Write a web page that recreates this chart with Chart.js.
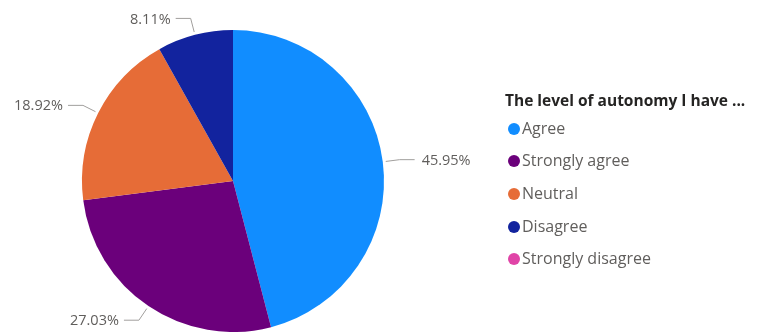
<!DOCTYPE html>
<html>
<head>
<meta charset="utf-8">
<script src="https://cdn.jsdelivr.net/npm/chart.js@4/dist/chart.umd.min.js"></script>
<style>
  html, body { margin: 0; padding: 0; background: #fff; }
  #wrap { position: relative; width: 759px; height: 332px; }
</style>
</head>
<body>
<div id="wrap"><canvas id="pie" width="759" height="332"></canvas></div>
<script>
const legendTitle = 'The level of autonomy I have ...';
const categories = ['Agree', 'Strongly agree', 'Neutral', 'Disagree', 'Strongly disagree'];
const counts = [17, 10, 7, 3, 0];
const sliceColors = ['#118DFF', '#6B007B', '#E66C37', '#12239E', '#E044A7'];

const FONT = '"Open Sans", "Noto Sans", sans-serif';
const total = counts.reduce((a, b) => a + b, 0);

// data labels with a short radial leader and a horizontal tail
const leaderLabels = {
  id: 'leaderLabels',
  afterDatasetsDraw(chart) {
    const ctx = chart.ctx;
    const meta = chart.getDatasetMeta(0);
    ctx.save();
    ctx.font = '14.5px ' + FONT;
    ctx.textBaseline = 'middle';
    meta.data.forEach((arc, i) => {
      const v = counts[i];
      if (!v) return;
      const { x, y, startAngle, endAngle, outerRadius } = arc.getProps(['x', 'y', 'startAngle', 'endAngle', 'outerRadius'], true);
      const mid = (startAngle + endAngle) / 2;
      const cos = Math.cos(mid), sin = Math.sin(mid);
      const x0 = x + cos * (outerRadius + 3), y0 = y + sin * (outerRadius + 3);
      const x1 = x + cos * (outerRadius + 17), y1 = y + sin * (outerRadius + 17);
      const right = cos >= 0;
      const x2 = x1 + (right ? 15 : -15);
      ctx.strokeStyle = '#A19F9D';
      ctx.lineWidth = 1;
      ctx.beginPath();
      ctx.moveTo(x0, y0);
      ctx.lineTo(x1, y1);
      ctx.lineTo(x2, y1);
      ctx.stroke();
      ctx.fillStyle = '#605E5C';
      ctx.textAlign = right ? 'left' : 'right';
      const pct = (v / total * 100).toFixed(2) + '%';
      ctx.fillText(pct, x2 + (right ? 7 : -5), y1 + 1);
    });
    ctx.restore();
  }
};

// legend on the right: bold title, then a dot and a name per category
const sideLegend = {
  id: 'sideLegend',
  afterDraw(chart) {
    const ctx = chart.ctx;
    ctx.save();
    ctx.textBaseline = 'middle';
    ctx.textAlign = 'left';
    ctx.fillStyle = '#252423';
    ctx.font = 'bold 15.5px ' + FONT;
    ctx.fillText(legendTitle, 505, 102);
    const rows = [129, 161, 194, 227, 259];
    ctx.font = '16px ' + FONT;
    categories.forEach((name, i) => {
      ctx.fillStyle = sliceColors[i];
      ctx.beginPath();
      ctx.arc(514, rows[i], 6, 0, Math.PI * 2);
      ctx.fill();
      ctx.fillStyle = '#605E5C';
      ctx.fillText(name, 522, rows[i]);
    });
    ctx.restore();
  }
};

new Chart(document.getElementById('pie'), {
  type: 'pie',
  data: {
    labels: categories,
    datasets: [{
      data: counts,
      backgroundColor: sliceColors,
      borderWidth: 0
    }]
  },
  options: {
    responsive: false,
    animation: false,
    layout: { padding: { left: 82, right: 375, top: 30, bottom: 0 } },
    plugins: {
      legend: { display: false },
      tooltip: { enabled: false }
    }
  },
  plugins: [leaderLabels, sideLegend]
});
</script>
</body>
</html>
